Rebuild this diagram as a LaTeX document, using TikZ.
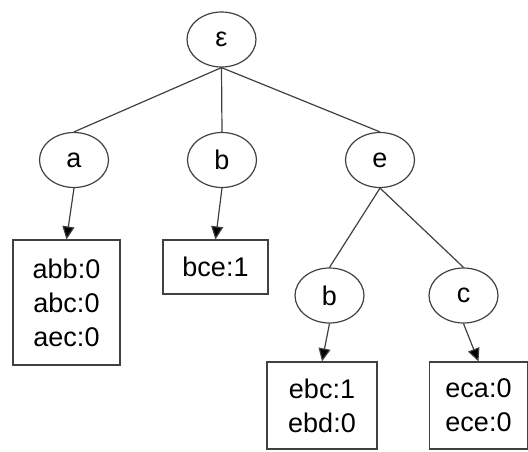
\documentclass[tikz,border=0pt]{standalone}
\usepackage{fontspec}
\setmainfont{Liberation Sans}
\usetikzlibrary{arrows.meta, shapes.geometric}

\begin{document}
\begin{tikzpicture}[
    x=1pt, y=-1pt, % one unit per pixel, y grows downwards
    >={Triangle[length=13pt, width=12pt, fill=black]}, % Filled arrow tip
    every node/.style={font=\fontsize{27}{34}\selectfont}, % Label font
    state/.style={ellipse, draw=black!75, line width=1.2pt, minimum width=69pt, minimum height=55pt, inner sep=0pt}, % Trie nodes
    leaf/.style={rectangle, draw=black!75, line width=1.2pt, align=center, inner sep=0pt}, % Count lists
    edge/.style={draw=black!75, line width=1.2pt}, % Plain tree edges
    link/.style={edge, ->} % Edges into the count lists
]
    \useasboundingbox (0,0) rectangle (528,451);

    % --- Trie ---
    \node[state] (root) at (221.5,39.5) {ε};
    \node[state] (a) at (74,160) {a};
    \node[state] (b) at (222,160) {b};
    \node[state] (e) at (380,160) {e};
    \node[state] (eb) at (329.5,295.5) {b};
    \node[state] (ec) at (463.5,295.5) {c};

    % --- Count lists ---
    \node[leaf, minimum width=107pt, minimum height=125pt] (abox) at (66.5,302.5) {abb:0\\abc:0\\aec:0};
    \node[leaf, minimum width=105pt, minimum height=54pt] (bbox) at (215.5,267) {bce:1};
    \node[leaf, minimum width=110pt, minimum height=87pt] (ebbox) at (322,405.5) {ebc:1\\ebd:0};
    \node[leaf, minimum width=98pt, minimum height=87pt] (ecbox) at (478.5,405.5) {eca:0\\ece:0};

    % Tree edges
    \draw[edge] (root.south) -- (a.north);
    \draw[edge] (root.south) -- (b.north);
    \draw[edge] (root.south) -- (e.north);
    \draw[edge] (e.south) -- (eb.north);
    \draw[edge] (e.south) -- (ec.north);

    % Arrows to the lists
    \draw[link] (a.south) -- (abox.north);
    \draw[link] (b.south) -- (bbox.north);
    \draw[link] (eb.south) -- (ebbox.north);
    \draw[link] (ec.south) -- (ecbox.north);
\end{tikzpicture}
\end{document}
